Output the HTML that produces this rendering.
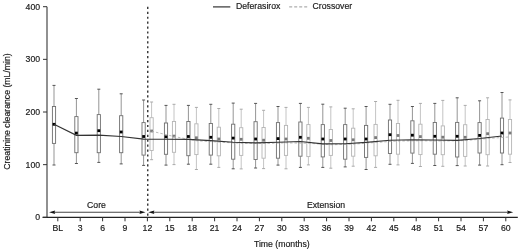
<!DOCTYPE html>
<html><head><meta charset="utf-8"><style>
html,body{margin:0;padding:0;background:#fff;}
body{width:520px;height:251px;overflow:hidden;}
svg{display:block;filter:blur(0.5px);}
text{font-family:"Liberation Sans",sans-serif;font-size:8.7px;fill:#1a1a1a;stroke:#1a1a1a;stroke-width:0.18px;}
</style></head><body>
<svg width="520" height="251" viewBox="0 0 520 251">
<!-- legend -->
<line x1="213" y1="6.9" x2="230.3" y2="6.9" stroke="#333" stroke-width="1.2"/>
<text x="236" y="9.35">Deferasirox</text>
<line x1="289.2" y1="6.9" x2="307.4" y2="6.9" stroke="#999" stroke-width="1" stroke-dasharray="3,2"/>
<text x="312.6" y="9.35">Crossover</text>
<!-- y label -->
<text transform="translate(9.8,111.5) rotate(-90)" text-anchor="middle">Creatinine clearance (mL/min)</text>
<!-- boxes -->
<line x1="151.60" y1="102.00" x2="151.60" y2="117.70" stroke="#c4c4c4" stroke-width="1"/>
<line x1="151.60" y1="150.50" x2="151.60" y2="159.70" stroke="#c4c4c4" stroke-width="1"/>
<line x1="150.10" y1="102.00" x2="153.10" y2="102.00" stroke="#aaaaaa" stroke-width="1"/>
<line x1="150.10" y1="159.70" x2="153.10" y2="159.70" stroke="#aaaaaa" stroke-width="1"/>
<rect x="150.00" y="117.70" width="3.20" height="32.80" fill="#fff" stroke="#b4b4b4" stroke-width="0.9"/>
<rect x="150.20" y="129.60" width="2.80" height="2.80" fill="#7a7a7a"/>
<line x1="174.00" y1="104.30" x2="174.00" y2="121.50" stroke="#c4c4c4" stroke-width="1"/>
<line x1="174.00" y1="152.30" x2="174.00" y2="164.60" stroke="#c4c4c4" stroke-width="1"/>
<line x1="172.50" y1="104.30" x2="175.50" y2="104.30" stroke="#aaaaaa" stroke-width="1"/>
<line x1="172.50" y1="164.60" x2="175.50" y2="164.60" stroke="#aaaaaa" stroke-width="1"/>
<rect x="172.40" y="121.50" width="3.20" height="30.80" fill="#fff" stroke="#b4b4b4" stroke-width="0.9"/>
<rect x="172.60" y="134.70" width="2.80" height="2.80" fill="#7a7a7a"/>
<line x1="196.40" y1="107.40" x2="196.40" y2="123.80" stroke="#c4c4c4" stroke-width="1"/>
<line x1="196.40" y1="154.60" x2="196.40" y2="169.50" stroke="#c4c4c4" stroke-width="1"/>
<line x1="194.90" y1="107.40" x2="197.90" y2="107.40" stroke="#aaaaaa" stroke-width="1"/>
<line x1="194.90" y1="169.50" x2="197.90" y2="169.50" stroke="#aaaaaa" stroke-width="1"/>
<rect x="194.80" y="123.80" width="3.20" height="30.80" fill="#fff" stroke="#b4b4b4" stroke-width="0.9"/>
<rect x="195.00" y="136.40" width="2.80" height="2.80" fill="#7a7a7a"/>
<line x1="218.80" y1="108.50" x2="218.80" y2="127.20" stroke="#c4c4c4" stroke-width="1"/>
<line x1="218.80" y1="155.80" x2="218.80" y2="167.40" stroke="#c4c4c4" stroke-width="1"/>
<line x1="217.30" y1="108.50" x2="220.30" y2="108.50" stroke="#aaaaaa" stroke-width="1"/>
<line x1="217.30" y1="167.40" x2="220.30" y2="167.40" stroke="#aaaaaa" stroke-width="1"/>
<rect x="217.20" y="127.20" width="3.20" height="28.60" fill="#fff" stroke="#b4b4b4" stroke-width="0.9"/>
<rect x="217.40" y="137.60" width="2.80" height="2.80" fill="#7a7a7a"/>
<line x1="241.20" y1="109.20" x2="241.20" y2="127.70" stroke="#c4c4c4" stroke-width="1"/>
<line x1="241.20" y1="155.40" x2="241.20" y2="168.90" stroke="#c4c4c4" stroke-width="1"/>
<line x1="239.70" y1="109.20" x2="242.70" y2="109.20" stroke="#aaaaaa" stroke-width="1"/>
<line x1="239.70" y1="168.90" x2="242.70" y2="168.90" stroke="#aaaaaa" stroke-width="1"/>
<rect x="239.60" y="127.70" width="3.20" height="27.70" fill="#fff" stroke="#b4b4b4" stroke-width="0.9"/>
<rect x="239.80" y="137.90" width="2.80" height="2.80" fill="#7a7a7a"/>
<line x1="263.60" y1="110.30" x2="263.60" y2="127.50" stroke="#c4c4c4" stroke-width="1"/>
<line x1="263.60" y1="158.20" x2="263.60" y2="168.60" stroke="#c4c4c4" stroke-width="1"/>
<line x1="262.10" y1="110.30" x2="265.10" y2="110.30" stroke="#aaaaaa" stroke-width="1"/>
<line x1="262.10" y1="168.60" x2="265.10" y2="168.60" stroke="#aaaaaa" stroke-width="1"/>
<rect x="262.00" y="127.50" width="3.20" height="30.70" fill="#fff" stroke="#b4b4b4" stroke-width="0.9"/>
<rect x="262.20" y="138.80" width="2.80" height="2.80" fill="#7a7a7a"/>
<line x1="286.00" y1="107.40" x2="286.00" y2="125.40" stroke="#c4c4c4" stroke-width="1"/>
<line x1="286.00" y1="155.40" x2="286.00" y2="168.80" stroke="#c4c4c4" stroke-width="1"/>
<line x1="284.50" y1="107.40" x2="287.50" y2="107.40" stroke="#aaaaaa" stroke-width="1"/>
<line x1="284.50" y1="168.80" x2="287.50" y2="168.80" stroke="#aaaaaa" stroke-width="1"/>
<rect x="284.40" y="125.40" width="3.20" height="30.00" fill="#fff" stroke="#b4b4b4" stroke-width="0.9"/>
<rect x="284.60" y="137.60" width="2.80" height="2.80" fill="#7a7a7a"/>
<line x1="308.40" y1="107.40" x2="308.40" y2="124.60" stroke="#c4c4c4" stroke-width="1"/>
<line x1="308.40" y1="156.60" x2="308.40" y2="164.90" stroke="#c4c4c4" stroke-width="1"/>
<line x1="306.90" y1="107.40" x2="309.90" y2="107.40" stroke="#aaaaaa" stroke-width="1"/>
<line x1="306.90" y1="164.90" x2="309.90" y2="164.90" stroke="#aaaaaa" stroke-width="1"/>
<rect x="306.80" y="124.60" width="3.20" height="32.00" fill="#fff" stroke="#b4b4b4" stroke-width="0.9"/>
<rect x="307.00" y="136.90" width="2.80" height="2.80" fill="#7a7a7a"/>
<line x1="330.80" y1="106.90" x2="330.80" y2="129.50" stroke="#c4c4c4" stroke-width="1"/>
<line x1="330.80" y1="155.40" x2="330.80" y2="168.20" stroke="#c4c4c4" stroke-width="1"/>
<line x1="329.30" y1="106.90" x2="332.30" y2="106.90" stroke="#aaaaaa" stroke-width="1"/>
<line x1="329.30" y1="168.20" x2="332.30" y2="168.20" stroke="#aaaaaa" stroke-width="1"/>
<rect x="329.20" y="129.50" width="3.20" height="25.90" fill="#fff" stroke="#b4b4b4" stroke-width="0.9"/>
<rect x="329.40" y="139.10" width="2.80" height="2.80" fill="#7a7a7a"/>
<line x1="353.20" y1="108.80" x2="353.20" y2="128.20" stroke="#c4c4c4" stroke-width="1"/>
<line x1="353.20" y1="156.20" x2="353.20" y2="166.20" stroke="#c4c4c4" stroke-width="1"/>
<line x1="351.70" y1="108.80" x2="354.70" y2="108.80" stroke="#aaaaaa" stroke-width="1"/>
<line x1="351.70" y1="166.20" x2="354.70" y2="166.20" stroke="#aaaaaa" stroke-width="1"/>
<rect x="351.60" y="128.20" width="3.20" height="28.00" fill="#fff" stroke="#b4b4b4" stroke-width="0.9"/>
<rect x="351.80" y="138.40" width="2.80" height="2.80" fill="#7a7a7a"/>
<line x1="375.60" y1="101.50" x2="375.60" y2="124.40" stroke="#c4c4c4" stroke-width="1"/>
<line x1="375.60" y1="155.80" x2="375.60" y2="167.40" stroke="#c4c4c4" stroke-width="1"/>
<line x1="374.10" y1="101.50" x2="377.10" y2="101.50" stroke="#aaaaaa" stroke-width="1"/>
<line x1="374.10" y1="167.40" x2="377.10" y2="167.40" stroke="#aaaaaa" stroke-width="1"/>
<rect x="374.00" y="124.40" width="3.20" height="31.40" fill="#fff" stroke="#b4b4b4" stroke-width="0.9"/>
<rect x="374.20" y="136.20" width="2.80" height="2.80" fill="#7a7a7a"/>
<line x1="398.00" y1="100.30" x2="398.00" y2="123.50" stroke="#c4c4c4" stroke-width="1"/>
<line x1="398.00" y1="154.20" x2="398.00" y2="164.90" stroke="#c4c4c4" stroke-width="1"/>
<line x1="396.50" y1="100.30" x2="399.50" y2="100.30" stroke="#aaaaaa" stroke-width="1"/>
<line x1="396.50" y1="164.90" x2="399.50" y2="164.90" stroke="#aaaaaa" stroke-width="1"/>
<rect x="396.40" y="123.50" width="3.20" height="30.70" fill="#fff" stroke="#b4b4b4" stroke-width="0.9"/>
<rect x="396.60" y="134.10" width="2.80" height="2.80" fill="#7a7a7a"/>
<line x1="420.40" y1="103.40" x2="420.40" y2="124.20" stroke="#c4c4c4" stroke-width="1"/>
<line x1="420.40" y1="154.60" x2="420.40" y2="166.50" stroke="#c4c4c4" stroke-width="1"/>
<line x1="418.90" y1="103.40" x2="421.90" y2="103.40" stroke="#aaaaaa" stroke-width="1"/>
<line x1="418.90" y1="166.50" x2="421.90" y2="166.50" stroke="#aaaaaa" stroke-width="1"/>
<rect x="418.80" y="124.20" width="3.20" height="30.40" fill="#fff" stroke="#b4b4b4" stroke-width="0.9"/>
<rect x="419.00" y="135.20" width="2.80" height="2.80" fill="#7a7a7a"/>
<line x1="442.80" y1="100.40" x2="442.80" y2="125.90" stroke="#c4c4c4" stroke-width="1"/>
<line x1="442.80" y1="154.70" x2="442.80" y2="166.30" stroke="#c4c4c4" stroke-width="1"/>
<line x1="441.30" y1="100.40" x2="444.30" y2="100.40" stroke="#aaaaaa" stroke-width="1"/>
<line x1="441.30" y1="166.30" x2="444.30" y2="166.30" stroke="#aaaaaa" stroke-width="1"/>
<rect x="441.20" y="125.90" width="3.20" height="28.80" fill="#fff" stroke="#b4b4b4" stroke-width="0.9"/>
<rect x="441.40" y="135.80" width="2.80" height="2.80" fill="#7a7a7a"/>
<line x1="465.20" y1="105.40" x2="465.20" y2="124.70" stroke="#c4c4c4" stroke-width="1"/>
<line x1="465.20" y1="156.40" x2="465.20" y2="166.00" stroke="#c4c4c4" stroke-width="1"/>
<line x1="463.70" y1="105.40" x2="466.70" y2="105.40" stroke="#aaaaaa" stroke-width="1"/>
<line x1="463.70" y1="166.00" x2="466.70" y2="166.00" stroke="#aaaaaa" stroke-width="1"/>
<rect x="463.60" y="124.70" width="3.20" height="31.70" fill="#fff" stroke="#b4b4b4" stroke-width="0.9"/>
<rect x="463.80" y="135.90" width="2.80" height="2.80" fill="#7a7a7a"/>
<line x1="487.60" y1="97.80" x2="487.60" y2="119.50" stroke="#c4c4c4" stroke-width="1"/>
<line x1="487.60" y1="154.70" x2="487.60" y2="166.00" stroke="#c4c4c4" stroke-width="1"/>
<line x1="486.10" y1="97.80" x2="489.10" y2="97.80" stroke="#aaaaaa" stroke-width="1"/>
<line x1="486.10" y1="166.00" x2="489.10" y2="166.00" stroke="#aaaaaa" stroke-width="1"/>
<rect x="486.00" y="119.50" width="3.20" height="35.20" fill="#fff" stroke="#b4b4b4" stroke-width="0.9"/>
<rect x="486.20" y="132.30" width="2.80" height="2.80" fill="#7a7a7a"/>
<line x1="510.00" y1="99.90" x2="510.00" y2="119.50" stroke="#c4c4c4" stroke-width="1"/>
<line x1="510.00" y1="154.20" x2="510.00" y2="162.50" stroke="#c4c4c4" stroke-width="1"/>
<line x1="508.50" y1="99.90" x2="511.50" y2="99.90" stroke="#aaaaaa" stroke-width="1"/>
<line x1="508.50" y1="162.50" x2="511.50" y2="162.50" stroke="#aaaaaa" stroke-width="1"/>
<rect x="508.40" y="119.50" width="3.20" height="34.70" fill="#fff" stroke="#b4b4b4" stroke-width="0.9"/>
<rect x="508.60" y="131.60" width="2.80" height="2.80" fill="#7a7a7a"/>
<line x1="54.00" y1="85.40" x2="54.00" y2="106.50" stroke="#959595" stroke-width="1"/>
<line x1="54.00" y1="143.40" x2="54.00" y2="165.00" stroke="#959595" stroke-width="1"/>
<line x1="52.50" y1="85.40" x2="55.50" y2="85.40" stroke="#555555" stroke-width="1"/>
<line x1="52.50" y1="165.00" x2="55.50" y2="165.00" stroke="#555555" stroke-width="1"/>
<rect x="52.40" y="106.50" width="3.20" height="36.90" fill="#fff" stroke="#6e6e6e" stroke-width="0.9"/>
<rect x="52.60" y="122.90" width="2.80" height="2.80" fill="#000"/>
<line x1="76.40" y1="98.50" x2="76.40" y2="116.60" stroke="#959595" stroke-width="1"/>
<line x1="76.40" y1="152.70" x2="76.40" y2="163.50" stroke="#959595" stroke-width="1"/>
<line x1="74.90" y1="98.50" x2="77.90" y2="98.50" stroke="#555555" stroke-width="1"/>
<line x1="74.90" y1="163.50" x2="77.90" y2="163.50" stroke="#555555" stroke-width="1"/>
<rect x="74.80" y="116.60" width="3.20" height="36.10" fill="#fff" stroke="#6e6e6e" stroke-width="0.9"/>
<rect x="75.00" y="131.70" width="2.80" height="2.80" fill="#000"/>
<line x1="98.80" y1="89.20" x2="98.80" y2="114.60" stroke="#959595" stroke-width="1"/>
<line x1="98.80" y1="152.70" x2="98.80" y2="162.40" stroke="#959595" stroke-width="1"/>
<line x1="97.30" y1="89.20" x2="100.30" y2="89.20" stroke="#555555" stroke-width="1"/>
<line x1="97.30" y1="162.40" x2="100.30" y2="162.40" stroke="#555555" stroke-width="1"/>
<rect x="97.20" y="114.60" width="3.20" height="38.10" fill="#fff" stroke="#6e6e6e" stroke-width="0.9"/>
<rect x="97.40" y="129.30" width="2.80" height="2.80" fill="#000"/>
<line x1="121.20" y1="93.80" x2="121.20" y2="115.70" stroke="#959595" stroke-width="1"/>
<line x1="121.20" y1="152.70" x2="121.20" y2="163.90" stroke="#959595" stroke-width="1"/>
<line x1="119.70" y1="93.80" x2="122.70" y2="93.80" stroke="#555555" stroke-width="1"/>
<line x1="119.70" y1="163.90" x2="122.70" y2="163.90" stroke="#555555" stroke-width="1"/>
<rect x="119.60" y="115.70" width="3.20" height="37.00" fill="#fff" stroke="#6e6e6e" stroke-width="0.9"/>
<rect x="119.80" y="130.60" width="2.80" height="2.80" fill="#000"/>
<line x1="143.60" y1="100.00" x2="143.60" y2="122.60" stroke="#959595" stroke-width="1"/>
<line x1="143.60" y1="155.10" x2="143.60" y2="165.40" stroke="#959595" stroke-width="1"/>
<line x1="142.10" y1="100.00" x2="145.10" y2="100.00" stroke="#555555" stroke-width="1"/>
<line x1="142.10" y1="165.40" x2="145.10" y2="165.40" stroke="#555555" stroke-width="1"/>
<rect x="142.00" y="122.60" width="3.20" height="32.50" fill="#fff" stroke="#6e6e6e" stroke-width="0.9"/>
<rect x="142.20" y="135.10" width="2.80" height="2.80" fill="#000"/>
<line x1="166.00" y1="105.40" x2="166.00" y2="123.00" stroke="#959595" stroke-width="1"/>
<line x1="166.00" y1="154.30" x2="166.00" y2="165.10" stroke="#959595" stroke-width="1"/>
<line x1="164.50" y1="105.40" x2="167.50" y2="105.40" stroke="#555555" stroke-width="1"/>
<line x1="164.50" y1="165.10" x2="167.50" y2="165.10" stroke="#555555" stroke-width="1"/>
<rect x="164.40" y="123.00" width="3.20" height="31.30" fill="#fff" stroke="#6e6e6e" stroke-width="0.9"/>
<rect x="164.60" y="135.40" width="2.80" height="2.80" fill="#000"/>
<line x1="188.40" y1="105.40" x2="188.40" y2="121.50" stroke="#959595" stroke-width="1"/>
<line x1="188.40" y1="155.70" x2="188.40" y2="164.20" stroke="#959595" stroke-width="1"/>
<line x1="186.90" y1="105.40" x2="189.90" y2="105.40" stroke="#555555" stroke-width="1"/>
<line x1="186.90" y1="164.20" x2="189.90" y2="164.20" stroke="#555555" stroke-width="1"/>
<rect x="186.80" y="121.50" width="3.20" height="34.20" fill="#fff" stroke="#6e6e6e" stroke-width="0.9"/>
<rect x="187.00" y="135.10" width="2.80" height="2.80" fill="#000"/>
<line x1="210.80" y1="104.30" x2="210.80" y2="123.50" stroke="#959595" stroke-width="1"/>
<line x1="210.80" y1="155.10" x2="210.80" y2="164.20" stroke="#959595" stroke-width="1"/>
<line x1="209.30" y1="104.30" x2="212.30" y2="104.30" stroke="#555555" stroke-width="1"/>
<line x1="209.30" y1="164.20" x2="212.30" y2="164.20" stroke="#555555" stroke-width="1"/>
<rect x="209.20" y="123.50" width="3.20" height="31.60" fill="#fff" stroke="#6e6e6e" stroke-width="0.9"/>
<rect x="209.40" y="135.90" width="2.80" height="2.80" fill="#000"/>
<line x1="233.20" y1="103.10" x2="233.20" y2="124.20" stroke="#959595" stroke-width="1"/>
<line x1="233.20" y1="159.20" x2="233.20" y2="168.80" stroke="#959595" stroke-width="1"/>
<line x1="231.70" y1="103.10" x2="234.70" y2="103.10" stroke="#555555" stroke-width="1"/>
<line x1="231.70" y1="168.80" x2="234.70" y2="168.80" stroke="#555555" stroke-width="1"/>
<rect x="231.60" y="124.20" width="3.20" height="35.00" fill="#fff" stroke="#6e6e6e" stroke-width="0.9"/>
<rect x="231.80" y="136.70" width="2.80" height="2.80" fill="#000"/>
<line x1="255.60" y1="103.40" x2="255.60" y2="121.70" stroke="#959595" stroke-width="1"/>
<line x1="255.60" y1="159.50" x2="255.60" y2="168.00" stroke="#959595" stroke-width="1"/>
<line x1="254.10" y1="103.40" x2="257.10" y2="103.40" stroke="#555555" stroke-width="1"/>
<line x1="254.10" y1="168.00" x2="257.10" y2="168.00" stroke="#555555" stroke-width="1"/>
<rect x="254.00" y="121.70" width="3.20" height="37.80" fill="#fff" stroke="#6e6e6e" stroke-width="0.9"/>
<rect x="254.20" y="137.60" width="2.80" height="2.80" fill="#000"/>
<line x1="278.00" y1="106.50" x2="278.00" y2="122.60" stroke="#959595" stroke-width="1"/>
<line x1="278.00" y1="158.20" x2="278.00" y2="165.10" stroke="#959595" stroke-width="1"/>
<line x1="276.50" y1="106.50" x2="279.50" y2="106.50" stroke="#555555" stroke-width="1"/>
<line x1="276.50" y1="165.10" x2="279.50" y2="165.10" stroke="#555555" stroke-width="1"/>
<rect x="276.40" y="122.60" width="3.20" height="35.60" fill="#fff" stroke="#6e6e6e" stroke-width="0.9"/>
<rect x="276.60" y="137.20" width="2.80" height="2.80" fill="#000"/>
<line x1="300.40" y1="103.40" x2="300.40" y2="122.00" stroke="#959595" stroke-width="1"/>
<line x1="300.40" y1="156.20" x2="300.40" y2="167.40" stroke="#959595" stroke-width="1"/>
<line x1="298.90" y1="103.40" x2="301.90" y2="103.40" stroke="#555555" stroke-width="1"/>
<line x1="298.90" y1="167.40" x2="301.90" y2="167.40" stroke="#555555" stroke-width="1"/>
<rect x="298.80" y="122.00" width="3.20" height="34.20" fill="#fff" stroke="#6e6e6e" stroke-width="0.9"/>
<rect x="299.00" y="135.90" width="2.80" height="2.80" fill="#000"/>
<line x1="322.80" y1="104.20" x2="322.80" y2="124.60" stroke="#959595" stroke-width="1"/>
<line x1="322.80" y1="156.90" x2="322.80" y2="167.40" stroke="#959595" stroke-width="1"/>
<line x1="321.30" y1="104.20" x2="324.30" y2="104.20" stroke="#555555" stroke-width="1"/>
<line x1="321.30" y1="167.40" x2="324.30" y2="167.40" stroke="#555555" stroke-width="1"/>
<rect x="321.20" y="124.60" width="3.20" height="32.30" fill="#fff" stroke="#6e6e6e" stroke-width="0.9"/>
<rect x="321.40" y="137.60" width="2.80" height="2.80" fill="#000"/>
<line x1="345.20" y1="108.20" x2="345.20" y2="124.60" stroke="#959595" stroke-width="1"/>
<line x1="345.20" y1="159.20" x2="345.20" y2="166.90" stroke="#959595" stroke-width="1"/>
<line x1="343.70" y1="108.20" x2="346.70" y2="108.20" stroke="#555555" stroke-width="1"/>
<line x1="343.70" y1="166.90" x2="346.70" y2="166.90" stroke="#555555" stroke-width="1"/>
<rect x="343.60" y="124.60" width="3.20" height="34.60" fill="#fff" stroke="#6e6e6e" stroke-width="0.9"/>
<rect x="343.80" y="137.60" width="2.80" height="2.80" fill="#000"/>
<line x1="366.10" y1="106.50" x2="366.10" y2="125.40" stroke="#959595" stroke-width="1"/>
<line x1="366.10" y1="157.40" x2="366.10" y2="169.50" stroke="#959595" stroke-width="1"/>
<line x1="364.60" y1="106.50" x2="367.60" y2="106.50" stroke="#555555" stroke-width="1"/>
<line x1="364.60" y1="169.50" x2="367.60" y2="169.50" stroke="#555555" stroke-width="1"/>
<rect x="364.50" y="125.40" width="3.20" height="32.00" fill="#fff" stroke="#6e6e6e" stroke-width="0.9"/>
<rect x="364.70" y="137.60" width="2.80" height="2.80" fill="#000"/>
<line x1="390.00" y1="104.30" x2="390.00" y2="120.00" stroke="#959595" stroke-width="1"/>
<line x1="390.00" y1="153.50" x2="390.00" y2="164.30" stroke="#959595" stroke-width="1"/>
<line x1="388.50" y1="104.30" x2="391.50" y2="104.30" stroke="#555555" stroke-width="1"/>
<line x1="388.50" y1="164.30" x2="391.50" y2="164.30" stroke="#555555" stroke-width="1"/>
<rect x="388.40" y="120.00" width="3.20" height="33.50" fill="#fff" stroke="#6e6e6e" stroke-width="0.9"/>
<rect x="388.60" y="133.30" width="2.80" height="2.80" fill="#000"/>
<line x1="412.40" y1="106.50" x2="412.40" y2="120.80" stroke="#959595" stroke-width="1"/>
<line x1="412.40" y1="153.10" x2="412.40" y2="163.40" stroke="#959595" stroke-width="1"/>
<line x1="410.90" y1="106.50" x2="413.90" y2="106.50" stroke="#555555" stroke-width="1"/>
<line x1="410.90" y1="163.40" x2="413.90" y2="163.40" stroke="#555555" stroke-width="1"/>
<rect x="410.80" y="120.80" width="3.20" height="32.30" fill="#fff" stroke="#6e6e6e" stroke-width="0.9"/>
<rect x="411.00" y="133.80" width="2.80" height="2.80" fill="#000"/>
<line x1="434.80" y1="103.40" x2="434.80" y2="122.50" stroke="#959595" stroke-width="1"/>
<line x1="434.80" y1="154.20" x2="434.80" y2="165.50" stroke="#959595" stroke-width="1"/>
<line x1="433.30" y1="103.40" x2="436.30" y2="103.40" stroke="#555555" stroke-width="1"/>
<line x1="433.30" y1="165.50" x2="436.30" y2="165.50" stroke="#555555" stroke-width="1"/>
<rect x="433.20" y="122.50" width="3.20" height="31.70" fill="#fff" stroke="#6e6e6e" stroke-width="0.9"/>
<rect x="433.40" y="134.90" width="2.80" height="2.80" fill="#000"/>
<line x1="457.20" y1="97.80" x2="457.20" y2="122.40" stroke="#959595" stroke-width="1"/>
<line x1="457.20" y1="157.00" x2="457.20" y2="165.60" stroke="#959595" stroke-width="1"/>
<line x1="455.70" y1="97.80" x2="458.70" y2="97.80" stroke="#555555" stroke-width="1"/>
<line x1="455.70" y1="165.60" x2="458.70" y2="165.60" stroke="#555555" stroke-width="1"/>
<rect x="455.60" y="122.40" width="3.20" height="34.60" fill="#fff" stroke="#6e6e6e" stroke-width="0.9"/>
<rect x="455.80" y="134.90" width="2.80" height="2.80" fill="#000"/>
<line x1="479.60" y1="100.80" x2="479.60" y2="122.60" stroke="#959595" stroke-width="1"/>
<line x1="479.60" y1="153.00" x2="479.60" y2="165.10" stroke="#959595" stroke-width="1"/>
<line x1="478.10" y1="100.80" x2="481.10" y2="100.80" stroke="#555555" stroke-width="1"/>
<line x1="478.10" y1="165.10" x2="481.10" y2="165.10" stroke="#555555" stroke-width="1"/>
<rect x="478.00" y="122.60" width="3.20" height="30.40" fill="#fff" stroke="#6e6e6e" stroke-width="0.9"/>
<rect x="478.20" y="134.00" width="2.80" height="2.80" fill="#000"/>
<line x1="502.00" y1="92.50" x2="502.00" y2="118.10" stroke="#959595" stroke-width="1"/>
<line x1="502.00" y1="153.00" x2="502.00" y2="164.70" stroke="#959595" stroke-width="1"/>
<line x1="500.50" y1="92.50" x2="503.50" y2="92.50" stroke="#555555" stroke-width="1"/>
<line x1="500.50" y1="164.70" x2="503.50" y2="164.70" stroke="#555555" stroke-width="1"/>
<rect x="500.40" y="118.10" width="3.20" height="34.90" fill="#fff" stroke="#6e6e6e" stroke-width="0.9"/>
<rect x="500.60" y="131.60" width="2.80" height="2.80" fill="#000"/>
<!-- crossover dashed line -->
<polyline points="151.60,131.20 174.00,136.50 196.40,140.73 218.80,142.07 241.20,143.31 263.60,143.49 286.00,142.85 308.40,143.26 330.80,144.76 353.20,144.16 375.60,142.47 398.00,141.02 420.40,140.77 442.80,141.01 465.20,140.56 487.60,138.51 510.00,136.90" fill="none" stroke="#aaa" stroke-width="0.8" stroke-dasharray="2.5,2"/>
<!-- deferasirox line -->
<polyline points="54.00,124.30 76.40,135.30 98.80,135.10 121.20,136.50 143.60,139.10 166.00,139.20 188.40,139.40 210.80,140.60 233.20,142.20 255.60,142.80 278.00,142.20 300.40,141.50 322.80,143.90 345.20,143.80 366.10,142.40 390.00,140.30 412.40,139.80 434.80,140.00 457.20,140.30 479.60,138.50 502.00,136.00" fill="none" stroke="#333" stroke-width="1.15"/>
<!-- axes -->
<line x1="47" y1="6.7" x2="47" y2="217.3" stroke="#555" stroke-width="1.3"/>
<line x1="42.5" y1="217.3" x2="517.8" y2="217.3" stroke="#222" stroke-width="1.3"/>
<line x1="43" y1="217.30" x2="47" y2="217.30" stroke="#333" stroke-width="1"/>
<text x="40.1" y="220.40" text-anchor="end">0</text>
<line x1="43" y1="164.65" x2="47" y2="164.65" stroke="#333" stroke-width="1"/>
<text x="40.1" y="167.75" text-anchor="end">100</text>
<line x1="43" y1="112.00" x2="47" y2="112.00" stroke="#333" stroke-width="1"/>
<text x="40.1" y="115.10" text-anchor="end">200</text>
<line x1="43" y1="59.35" x2="47" y2="59.35" stroke="#333" stroke-width="1"/>
<text x="40.1" y="62.45" text-anchor="end">300</text>
<line x1="43" y1="6.70" x2="47" y2="6.70" stroke="#333" stroke-width="1"/>
<text x="40.1" y="9.80" text-anchor="end">400</text>
<line x1="57.80" y1="217.3" x2="57.80" y2="221.3" stroke="#333" stroke-width="1"/>
<text x="57.80" y="230.5" text-anchor="middle">BL</text>
<line x1="80.20" y1="217.3" x2="80.20" y2="221.3" stroke="#333" stroke-width="1"/>
<text x="80.20" y="230.5" text-anchor="middle">3</text>
<line x1="102.60" y1="217.3" x2="102.60" y2="221.3" stroke="#333" stroke-width="1"/>
<text x="102.60" y="230.5" text-anchor="middle">6</text>
<line x1="125.00" y1="217.3" x2="125.00" y2="221.3" stroke="#333" stroke-width="1"/>
<text x="125.00" y="230.5" text-anchor="middle">9</text>
<line x1="147.40" y1="217.3" x2="147.40" y2="221.3" stroke="#333" stroke-width="1"/>
<text x="147.40" y="230.5" text-anchor="middle">12</text>
<line x1="169.80" y1="217.3" x2="169.80" y2="221.3" stroke="#333" stroke-width="1"/>
<text x="169.80" y="230.5" text-anchor="middle">15</text>
<line x1="192.20" y1="217.3" x2="192.20" y2="221.3" stroke="#333" stroke-width="1"/>
<text x="192.20" y="230.5" text-anchor="middle">18</text>
<line x1="214.60" y1="217.3" x2="214.60" y2="221.3" stroke="#333" stroke-width="1"/>
<text x="214.60" y="230.5" text-anchor="middle">21</text>
<line x1="237.00" y1="217.3" x2="237.00" y2="221.3" stroke="#333" stroke-width="1"/>
<text x="237.00" y="230.5" text-anchor="middle">24</text>
<line x1="259.40" y1="217.3" x2="259.40" y2="221.3" stroke="#333" stroke-width="1"/>
<text x="259.40" y="230.5" text-anchor="middle">27</text>
<line x1="281.80" y1="217.3" x2="281.80" y2="221.3" stroke="#333" stroke-width="1"/>
<text x="281.80" y="230.5" text-anchor="middle">30</text>
<line x1="304.20" y1="217.3" x2="304.20" y2="221.3" stroke="#333" stroke-width="1"/>
<text x="304.20" y="230.5" text-anchor="middle">33</text>
<line x1="326.60" y1="217.3" x2="326.60" y2="221.3" stroke="#333" stroke-width="1"/>
<text x="326.60" y="230.5" text-anchor="middle">36</text>
<line x1="349.00" y1="217.3" x2="349.00" y2="221.3" stroke="#333" stroke-width="1"/>
<text x="349.00" y="230.5" text-anchor="middle">39</text>
<line x1="371.40" y1="217.3" x2="371.40" y2="221.3" stroke="#333" stroke-width="1"/>
<text x="371.40" y="230.5" text-anchor="middle">42</text>
<line x1="393.80" y1="217.3" x2="393.80" y2="221.3" stroke="#333" stroke-width="1"/>
<text x="393.80" y="230.5" text-anchor="middle">45</text>
<line x1="416.20" y1="217.3" x2="416.20" y2="221.3" stroke="#333" stroke-width="1"/>
<text x="416.20" y="230.5" text-anchor="middle">48</text>
<line x1="438.60" y1="217.3" x2="438.60" y2="221.3" stroke="#333" stroke-width="1"/>
<text x="438.60" y="230.5" text-anchor="middle">51</text>
<line x1="461.00" y1="217.3" x2="461.00" y2="221.3" stroke="#333" stroke-width="1"/>
<text x="461.00" y="230.5" text-anchor="middle">54</text>
<line x1="483.40" y1="217.3" x2="483.40" y2="221.3" stroke="#333" stroke-width="1"/>
<text x="483.40" y="230.5" text-anchor="middle">57</text>
<line x1="505.80" y1="217.3" x2="505.80" y2="221.3" stroke="#333" stroke-width="1"/>
<text x="505.80" y="230.5" text-anchor="middle">60</text>
<!-- dashed vertical -->
<line x1="147.75" y1="6.8" x2="147.75" y2="217" stroke="#333" stroke-width="1.4" stroke-dasharray="2.2,2.72"/>
<!-- arrows -->
<line x1="53" y1="212.3" x2="141" y2="212.3" stroke="#444" stroke-width="1.1"/>
<polygon points="49.1,212.3 55.2,210.6 54.4,212.3 55.2,214.0" fill="#111"/>
<polygon points="145.5,212.3 139.4,210.6 140.2,212.3 139.4,214.0" fill="#111"/>
<line x1="152" y1="212.3" x2="509" y2="212.3" stroke="#444" stroke-width="1.1"/>
<polygon points="148.3,212.3 154.4,210.6 153.6,212.3 154.4,214.0" fill="#111"/>
<polygon points="513.2,212.3 507.1,210.6 507.9,212.3 507.1,214.0" fill="#111"/>
<text x="96.5" y="207.7" text-anchor="middle">Core</text>
<text x="326" y="207.7" text-anchor="middle">Extension</text>
<text x="281.8" y="246.8" text-anchor="middle">Time (months)</text>
</svg>
</body></html>
